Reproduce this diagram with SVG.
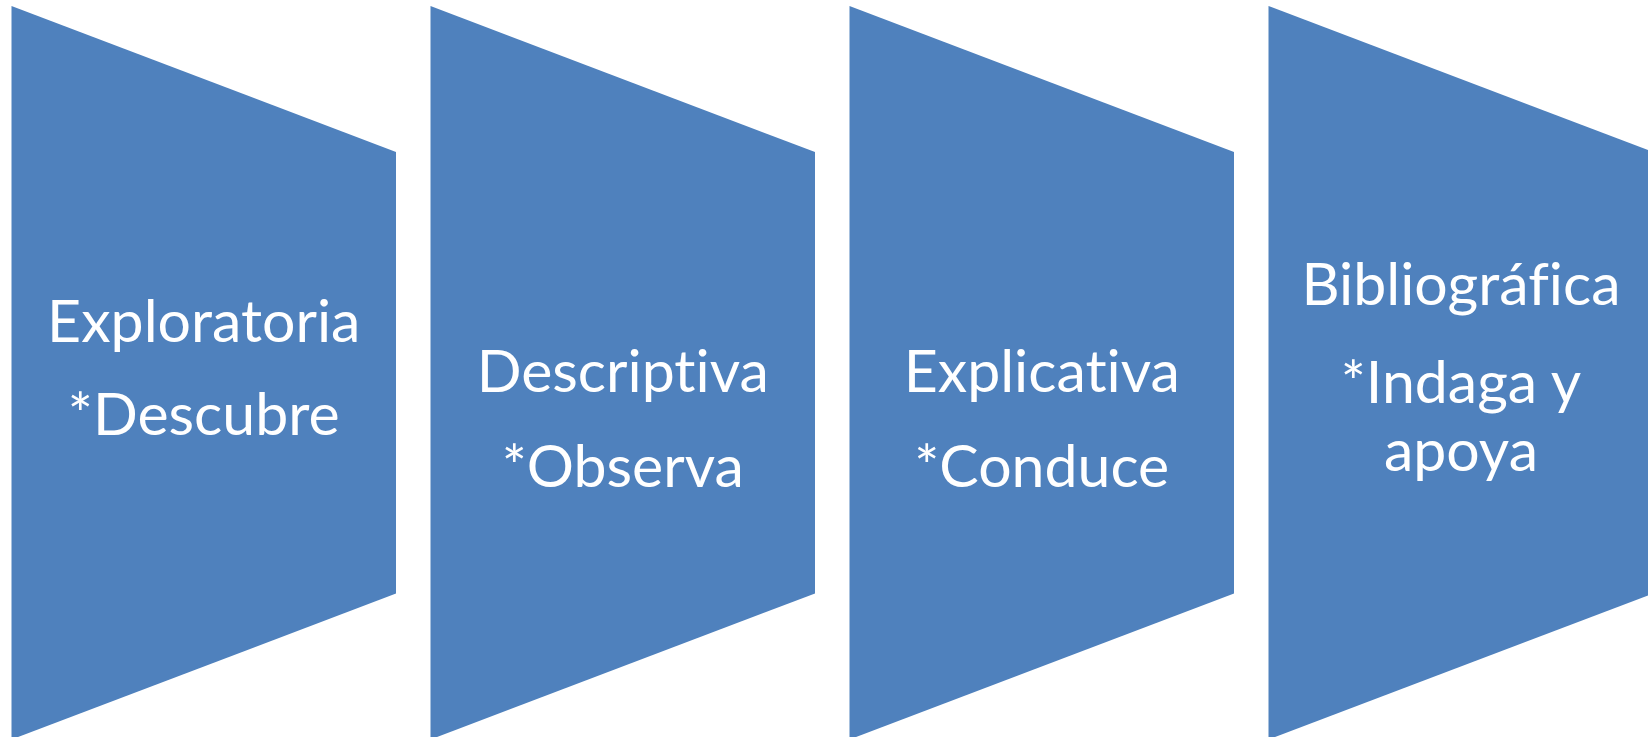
<svg xmlns="http://www.w3.org/2000/svg" width="1648" height="737" viewBox="0 0 1648 737">
<style>
.s{fill:#4F81BD;}
.t{fill:#FFFFFF;font-family:Lato,"Open Sans","Liberation Sans",sans-serif;font-size:59px;text-anchor:middle;font-variant-ligatures:none;font-feature-settings:"liga" 0;}
</style>
<rect width="1648" height="737" fill="#FFFFFF"/>
<g id="node1">
<polygon class="s" points="11.5,6 396,152 396,593.5 11.5,739.5"/>
<text class="t" x="203.75" y="342">Exploratoria</text>
<text class="t" x="203.75" y="435">*Descubre</text>
</g>
<g id="node2">
<polygon class="s" points="430.5,6 815,152 815,593.5 430.5,739.5"/>
<text class="t" x="622.75" y="392">Descriptiva</text>
<text class="t" x="622.75" y="487">*Observa</text>
</g>
<g id="node3">
<polygon class="s" points="849.5,6 1234,152 1234,593.5 849.5,739.5"/>
<text class="t" x="1041.75" y="392">Explicativa</text>
<text class="t" x="1041.75" y="487">*Conduce</text>
</g>
<g id="node4">
<polygon class="s" points="1268.5,6 1653,152 1653,593.5 1268.5,739.5"/>
<text class="t" x="1461" y="305">Bibliográfica</text>
<text class="t" x="1461" y="403">*Indaga y</text>
<text class="t" x="1461" y="471">apoya</text>
</g>
<g id="connectors"></g>
</svg>
